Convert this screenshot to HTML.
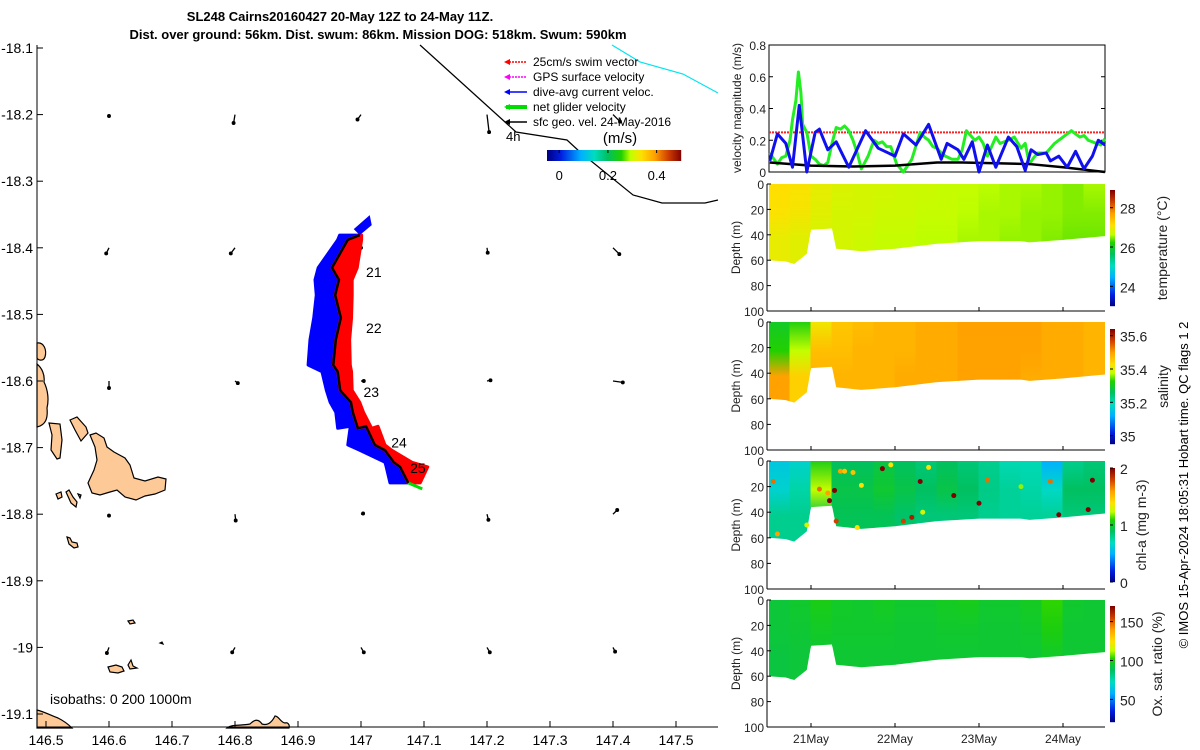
<!DOCTYPE html>
<html><head><meta charset="utf-8"><style>
html,body{margin:0;padding:0;background:#fff;width:1200px;height:750px;overflow:hidden}
svg{display:block;font-family:"Liberation Sans","DejaVu Sans",sans-serif}
</style></head><body>
<svg id="root" width="1200" height="750" viewBox="0 0 1200 750" xmlns="http://www.w3.org/2000/svg">
<g font-weight="bold" font-size="13" fill="#000">
<text x="340" y="21" text-anchor="middle">SL248 Cairns20160427 20-May 12Z to 24-May 11Z.</text>
<text x="378" y="39" text-anchor="middle">Dist. over ground: 56km. Dist. swum: 86km. Mission DOG: 518km. Swum: 590km</text>
</g>
<g id="map"></g>
<g id="right"></g>
<text transform="translate(1188,485) rotate(-90)" text-anchor="middle" font-size="13" fill="#000">© IMOS 15-Apr-2024 18:05:31 Hobart time. QC flags 1  2</text>
</svg>
<script>
// ---------------- data ----------------
const trackLon=[146.998,146.979,146.954,146.965,146.959,146.968,146.960,146.956,146.963,146.967,146.984,146.987,146.995,147.008,147.022,147.038,147.052,147.062,147.075];
const trackLat=[-18.381,-18.388,-18.430,-18.448,-18.471,-18.505,-18.538,-18.576,-18.586,-18.614,-18.632,-18.647,-18.671,-18.668,-18.696,-18.704,-18.722,-18.729,-18.753];
const diveAvgWidth=[0.032,0.016,0.022,0.038,0.030,0.043,0.041,0.040,0.025,0.022,0.033,0.027,0.032,0.025,0.043,0.040,0.014,0.022,0.029];
const swimWidth=[0.003,0.022,0.040,0.021,0.027,0.017,0.022,0.027,0.022,0.019,0.014,0.017,0.022,0.019,0.016,0.011,0.029,0.044,0.019];
const dayLabels=["21","22","23","24","25"];
const dayLabelLon=[147.008,147.008,147.004,147.048,147.078];
const dayLabelLat=[-18.444,-18.528,-18.624,-18.700,-18.738];
const gridLon=[146.6,146.8,147.0,147.2,147.4];
const gridLat=[-18.2,-18.4,-18.6,-18.8,-19.0];
const geoU=[[0,-0.2,-0.5,0.3,1.0],[-0.4,-0.6,0,0.1,0.9],[0,0.4,0.4,0.5,1.4],[0,0.1,0.3,0.2,0.6],[-0.3,-0.4,0.4,0.4,0.3]];
const geoV=[[-0.2,-1.2,-0.7,-2.5,-1.0],[-0.8,-0.8,0,-0.7,-0.9],[-1.0,-0.3,0,0.1,-0.2],[-0.2,-0.9,0.1,-0.8,0.6],[-0.8,-0.7,-0.7,-0.7,-0.6]];
const cbTicks=[0,0.2,0.4];
const mapXTicks=[146.5,146.6,146.7,146.8,146.9,147,147.1,147.2,147.3,147.4,147.5];
const mapYTicks=[-18.1,-18.2,-18.3,-18.4,-18.5,-18.6,-18.7,-18.8,-18.9,-19,-19.1];

const blueT=[20.51,20.6,20.7,20.78,20.86,20.95,21.05,21.1,21.2,21.3,21.45,21.65,21.8,22.0,22.1,22.25,22.4,22.55,22.62,22.75,22.82,22.92,23.0,23.1,23.2,23.35,23.45,23.55,23.62,23.7,23.8,23.85,23.95,24.05,24.15,24.25,24.35,24.42,24.5];
const blueV=[0.07,0.24,0.18,0.03,0.42,0.0,0.25,0.27,0.14,0.19,0.03,0.26,0.15,0.10,0.24,0.17,0.30,0.08,0.18,0.14,0.08,0.19,0.0,0.17,0.03,0.22,0.16,0.01,0.14,0.11,0.12,0.07,0.10,0.03,0.13,0.02,0.10,0.20,0.17];
const greenT=[20.51,20.56,20.6,20.65,20.7,20.75,20.78,20.82,20.85,20.88,20.9,20.95,21.0,21.05,21.1,21.15,21.2,21.25,21.3,21.35,21.4,21.45,21.5,21.55,21.6,21.68,21.75,21.8,21.85,21.9,21.95,22.02,22.1,22.2,22.3,22.35,22.4,22.45,22.5,22.55,22.6,22.68,22.75,22.8,22.85,22.9,22.95,23.0,23.05,23.1,23.15,23.2,23.25,23.35,23.42,23.5,23.55,23.6,23.65,23.7,23.8,23.9,24.0,24.05,24.1,24.15,24.2,24.25,24.3,24.4,24.45,24.5];
const greenV=[0.12,0.08,0.05,0.09,0.10,0.2,0.33,0.45,0.63,0.5,0.30,0.25,0.10,0.08,0.05,0.04,0.06,0.18,0.28,0.27,0.29,0.26,0.20,0.12,0.02,0.10,0.20,0.18,0.19,0.16,0.16,0.05,0.0,0.08,0.25,0.22,0.20,0.16,0.15,0.12,0.10,0.08,0.08,0.14,0.26,0.23,0.20,0.22,0.18,0.10,0.16,0.22,0.18,0.20,0.22,0.15,0.18,0.05,0.09,0.12,0.12,0.18,0.22,0.24,0.26,0.24,0.22,0.23,0.20,0.18,0.17,0.21];
const blackT=[20.51,21.0,21.5,22.0,22.5,22.8,23.2,23.6,24.0,24.5];
const blackV=[0.06,0.04,0.035,0.04,0.06,0.06,0.055,0.05,0.03,0.0];
const swimSpeed=0.25;
const velTicks=[0,0.2,0.4,0.6,0.8];
const dayTicks=[21,22,23,24];
const dayTickLabels=["21May","22May","23May","24May"];
const depthTicks=[0,20,40,60,80,100];

const bottomT=[20.5,20.7,20.8,20.95,21.0,21.25,21.3,21.6,22.0,22.5,23.0,23.5,23.6,24.0,24.5];
const bottomD=[60,61,63,55,36,35,51,53,51,47,45,45,46,44,41];
const colT=[20.5,20.75,21.0,21.25,21.5,21.75,22.0,22.25,22.5,22.75,23.0,23.25,23.5,23.75,24.0,24.25];
const tempTop=[27.15,27.1,26.95,26.85,26.8,26.8,26.75,26.75,26.7,26.7,26.65,26.6,26.6,26.55,26.5,26.6];
const tempMid=[27.1,27.05,26.9,26.8,26.8,26.75,26.75,26.7,26.7,26.65,26.6,26.6,26.55,26.55,26.5,26.5];
const tempBot=[26.95,26.9,26.8,26.8,26.75,26.7,26.7,26.65,26.65,26.6,26.6,26.55,26.55,26.5,26.45,26.45];
const salTop=[35.30,35.32,35.42,35.46,35.47,35.48,35.48,35.49,35.49,35.50,35.50,35.50,35.50,35.49,35.49,35.48];
const salMid=[35.33,35.38,35.47,35.47,35.48,35.48,35.48,35.49,35.49,35.50,35.50,35.50,35.50,35.49,35.49,35.48];
const salBot=[35.50,35.45,35.48,35.48,35.48,35.48,35.49,35.49,35.49,35.50,35.50,35.50,35.49,35.49,35.49,35.48];
const chlTop=[0.6,0.65,1.05,0.9,0.9,0.95,0.9,0.85,0.9,0.85,0.8,0.72,0.72,0.5,0.8,0.85];
const chlMid=[0.65,0.75,1.25,0.95,0.95,1.0,0.95,0.9,0.95,0.9,0.82,0.78,0.75,0.68,0.9,0.9];
const chlBot=[0.8,0.8,0.95,0.92,0.92,0.92,0.88,0.85,0.85,0.85,0.8,0.78,0.78,0.78,0.85,0.85];
const oxyTop=[94,96,100,97,96,98,96,96,98,99,96,96,98,104,96,95];
const oxyMid=[94,95,97,96,96,96,95,95,96,96,95,95,96,101,95,95];
const oxyBot=[93,94,95,95,95,95,95,95,95,95,95,95,95,97,95,95];
const chlDotT=[20.55,20.6,20.95,21.1,21.2,21.22,21.28,21.3,21.35,21.4,21.5,21.55,21.6,21.85,21.95,22.1,22.2,22.3,22.33,22.4,22.7,23.0,23.1,23.5,23.85,23.95,24.3,24.35];
const chlDotD=[16,57,50,22,25,31,23,47,8,8,9,52,19,6,3,47,44,16,40,5,27,33,15,20,16,42,38,15];
const chlDotV=[1.7,1.6,1.3,1.7,1.6,2.0,2.0,1.8,1.6,1.5,1.5,1.4,1.4,2.0,1.4,1.8,1.9,2.0,1.3,1.4,2.0,2.0,1.7,1.2,1.7,2.0,2.0,2.0];

// ---------------- helpers ----------------
const NS="http://www.w3.org/2000/svg";
function mk(parent,tag,attrs,text){const e=document.createElementNS(NS,tag);for(const k in attrs)e.setAttribute(k,attrs[k]);if(text!==undefined)e.textContent=text;parent.appendChild(e);return e;}
const cmStops=[[0,0,0,130],[0.1,0,30,225],[0.25,0,176,255],[0.35,0,220,190],[0.45,0,192,96],[0.55,32,208,0],[0.62,192,255,0],[0.7,255,224,0],[0.8,255,160,0],[0.9,208,64,0],[1,128,0,0]];
function jet(f){f=Math.max(0,Math.min(1,f));
 for(let i=1;i<cmStops.length;i++){if(f<=cmStops[i][0]){const a=cmStops[i-1],b=cmStops[i],t=(f-a[0])/(b[0]-a[0]);
  return `rgb(${Math.round(a[1]+t*(b[1]-a[1]))},${Math.round(a[2]+t*(b[2]-a[2]))},${Math.round(a[3]+t*(b[3]-a[3]))})`;}}
 return 'rgb(128,0,0)';}
const mx=lon=>46+(lon-146.5)*630;
const my=lat=>48+(-18.1-lat)*666;
const map=document.getElementById('map');
const right=document.getElementById('right');
const defs=mk(document.getElementById('root'),'defs',{});

// ---------------- map ----------------
const coast=mk(map,'g',{fill:'#fdc996',stroke:'#000','stroke-width':1.2});


const coastPaths=["M37,343 C44,342 47,350 45,357 C43,362 38,360 37,358Z",
"M37,364 C42,368 45,375 44,382 C48,390 49,400 47,408 C48,418 46,425 37,427Z",
"M49,423 L60,424 L62,440 L60,458 L57,459 L51,450 L52,435Z",
"M70,420 L77,417 L86,427 L88,433 L81,441 L75,430Z",
"M90,435 L96,433 L104,438 L107,447 L114,452 L125,458 L130,465 L134,478 L145,481 L158,477 L166,479 L165,490 L155,494 L145,496 L136,500 L125,497 L117,490 L110,492 L100,495 L92,493 L88,483 L94,470 L97,460 L95,447Z",
"M56,494 L61,492 L62,497 L58,499Z","M66,492 L69,490 L73,497 L77,502 L76,507 L71,503Z","M78,494 L81,495 L80,498Z",
"M67,537 L70,538 L72,542 L77,543 L78,547 L74,548 L69,544Z",
"M108,667 L116,665 L122,667 L124,671 L118,673 L110,672Z","M128,665 L131,660 L133,666 L137,668 L130,669Z","M128,621 L133,620 L135,623 L130,624Z","M160,643 L162,642 L163,644Z",
"M37,710 C45,712 52,716 58,718 C64,721 68,724 72,728 L37,728Z",
"M227,728 C232,724 240,726 250,724 C254,720 258,718 262,724 C268,726 272,722 275,716 C279,716 280,722 285,723 C288,722 290,725 289,728Z"];
coastPaths.forEach(d=>mk(coast,'path',{d:d}));

const ax=mk(map,'g',{stroke:'#000','stroke-width':1});


mk(ax,'line',{x1:37,y1:45,x2:37,y2:727});
mk(ax,'line',{x1:37,y1:727,x2:718,y2:727});
mapXTicks.forEach(v=>{const x=mx(v);mk(ax,'line',{x1:x,y1:727,x2:x,y2:721});
 const t=mk(map,'text',{x:x,y:745,'text-anchor':'middle','font-size':14},String(v));
 
 });
mapYTicks.forEach(v=>{const y=my(v);mk(ax,'line',{x1:37,y1:y,x2:43,y2:y});
 const t=mk(map,'text',{x:33,y:y+5,'text-anchor':'end','font-size':14},String(v));
 
 });
const iso=mk(map,'text',{x:50,y:704,'font-size':14},'isobaths: 0   200  1000m');



const mission=mk(map,'polyline',{points:"420,45 505,122 516,132 567,140 580,152 633,195 662,203 705,203 718,200",fill:'none',stroke:'#000','stroke-width':1.2});


const cyan=mk(map,'polyline',{points:"612,45 640,62 683,74 718,93",fill:'none',stroke:'#00e5f0','stroke-width':1.2});



const arr=mk(map,'g',{stroke:'#000','stroke-width':1.3,fill:'#000'});


gridLat.forEach((la,i)=>gridLon.forEach((lo,j)=>{
 const x=mx(lo),y=my(la),dx=geoU[i][j]*7,dy=-geoV[i][j]*7;
 mk(arr,'line',{x1:x,y1:y,x2:x+dx,y2:y+dy});
 mk(arr,'circle',{cx:x+dx,cy:y+dy,r:1.3});
}));

function band(widths,sign,color,name){
 const pts=[];trackLon.forEach((lo,i)=>pts.push(mx(lo+sign*widths[i])+','+my(trackLat[i])));
 for(let i=trackLon.length-1;i>=0;i--)pts.push(mx(trackLon[i])+','+my(trackLat[i]));
 const p=mk(map,'polygon',{points:pts.join(' '),fill:color,stroke:color,'stroke-width':3,'stroke-linejoin':'round'});
 
 
}
band(diveAvgWidth,-1,'#0000ff','dive-avg-current-vectors');
band(swimWidth,1,'#ff0000','swim-vectors');
const tip=mk(map,'polygon',{points:`${mx(trackLon[0])},${my(trackLat[0])} ${mx(trackLon[0])-6},${my(trackLat[0])-6} ${mx(trackLon[0])+10},${my(trackLat[0])-20} ${mx(trackLon[0])+12},${my(trackLat[0])-10}`,fill:'#0000ff'});


const gl=mk(map,'line',{x1:mx(trackLon[18]),y1:my(trackLat[18]),x2:mx(trackLon[18])+14,y2:my(trackLat[18])+6,stroke:'#00dd00','stroke-width':3});


const tr=mk(map,'polyline',{points:trackLon.map((lo,i)=>mx(lo)+','+my(trackLat[i])).join(' '),fill:'none',stroke:'#000','stroke-width':2.5});


dayLabels.forEach((d,i)=>{const t=mk(map,'text',{x:mx(dayLabelLon[i]),y:my(dayLabelLat[i]),'font-size':14},d);
 
 });

const lg=mk(map,'g',{'font-size':12});


const legItems=["25cm/s swim vector","GPS surface velocity","dive-avg current veloc.","net glider velocity","sfc geo. vel. 24-May-2016"];
const legColors=["#ff0000","#ff00ff","#0000ff","#00dd00","#000"];
const legWidth=[1.5,1.5,1.5,4,1.5];
legItems.forEach((s,i)=>{const y=62+i*15;
 const g=mk(lg,'g',{});
 
 
 mk(g,'line',{x1:506,y1:y,x2:527,y2:y,stroke:legColors[i],'stroke-width':legWidth[i],'stroke-dasharray':i<2?'2,1':'none'});
 mk(g,'polygon',{points:`504,${y} 510,${y-3} 510,${y+3}`,fill:legColors[i]});
 mk(g,'text',{x:533,y:y+4},s);});
const a4=mk(map,'text',{x:506,y:141,'font-size':13},'4h');


const cbx=v=>547+(v+0.05)*(134/0.55);
const cb=mk(map,'g',{});


for(let i=0;i<134;i++)mk(cb,'rect',{x:547+i,y:150,width:1.2,height:11,fill:jet(i/134)});
cbTicks.forEach(v=>{mk(cb,'line',{x1:cbx(v),y1:150,x2:cbx(v),y2:153,stroke:'#000'});
 mk(cb,'text',{x:cbx(v),y:180,'text-anchor':'middle','font-size':13},String(v));});
mk(cb,'text',{x:620,y:143,'text-anchor':'middle','font-size':15},'(m/s)');

// ---------------- velocity panel ----------------
const X0=769,X1=1105;
const vx=d=>X0+(d-20.5)*84;
const vy=v=>172-v*158.75;
const vp=mk(right,'g',{});


mk(vp,'rect',{x:X0,y:45,width:X1-X0,height:127,fill:'none',stroke:'#000'});
velTicks.forEach(v=>{mk(vp,'line',{x1:X0,y1:vy(v),x2:X0+4,y2:vy(v),stroke:'#000'});
 mk(vp,'line',{x1:X1,y1:vy(v),x2:X1-4,y2:vy(v),stroke:'#000'});
 const t=mk(vp,'text',{x:X0-3,y:vy(v)+5,'text-anchor':'end','font-size':12,fill:'#222'},String(v));
 
 });
const vt=mk(vp,'text',{transform:`translate(741,108) rotate(-90)`,'text-anchor':'middle','font-size':12,fill:'#222'},'velocity magnitude (m/s)');


const sw=mk(vp,'line',{x1:X0,y1:vy(swimSpeed),x2:X1,y2:vy(swimSpeed),stroke:'#ff2020','stroke-width':2,'stroke-dasharray':'2,1'});


function series(T,V,color,w,name){const p=mk(vp,'polyline',{points:T.map((t,i)=>vx(t)+','+vy(V[i])).join(' '),fill:'none',stroke:color,'stroke-width':w,'stroke-linejoin':'round'});
 
 }
series(greenT,greenV,'#22ee22',3,'net-glider-velocity-line');
series(blackT,blackV,'#000',2.5,'geostrophic-velocity-line');
series(blueT,blueV,'#1010ee',3,'dive-avg-current-line');

// ---------------- depth panels ----------------
function depthPanel(name,top,bot,topA,midA,botA,vmin,vmax,cbTop,cbBot,ticks,title,titleX,showDates){
 const g=mk(right,'g',{});
 
 
 const dy=d=>top+(bot-top)*d/100;
 const cid='clip-'+name;
 const cp=mk(defs,'clipPath',{id:cid});
 const pts=[vx(20.5)+','+dy(0)];
 bottomT.forEach((t,i)=>pts.push(vx(t)+','+dy(bottomD[i])));
 pts.push(vx(24.5)+','+dy(0));
 mk(cp,'polygon',{points:pts.join(' ')});
 const hg=mk(g,'g',{'clip-path':`url(#${cid})`});
 colT.forEach((t,i)=>{
  const gid='gr-'+name+i;
  const lgd=mk(defs,'linearGradient',{id:gid,x1:0,y1:0,x2:0,y2:1});
  const f=v=>(v-vmin)/(vmax-vmin);
  mk(lgd,'stop',{offset:'0','stop-color':jet(f(topA[i]))});
  mk(lgd,'stop',{offset:'0.35','stop-color':jet(f(midA[i]))});
  mk(lgd,'stop',{offset:'0.65','stop-color':jet(f(botA[i]))});
  const r=mk(hg,'rect',{x:vx(t)-0.5,y:dy(-1),width:84*0.25+1,height:dy(66)-dy(-1),fill:`url(#${gid})`});
  
  
 });
 mk(g,'line',{x1:X0-2,y1:top,x2:X0-2,y2:bot,stroke:'#000'});
 mk(g,'line',{x1:X0-2,y1:bot,x2:X1,y2:bot,stroke:'#000'});
 depthTicks.forEach(d=>{mk(g,'line',{x1:X0-2,y1:dy(d),x2:X0+2,y2:dy(d),stroke:'#000'});
  const t=mk(g,'text',{x:X0-5,y:dy(d)+5,'text-anchor':'end','font-size':12,fill:'#222'},String(d));
  
  });
 const yt=mk(g,'text',{transform:`translate(740,${(top+bot)/2}) rotate(-90)`,'text-anchor':'middle','font-size':12,fill:'#222'},'Depth (m)');
 
 
 dayTicks.forEach((d,i)=>{mk(g,'line',{x1:vx(d),y1:bot,x2:vx(d),y2:bot-4,stroke:'#000'});
  if(showDates){const t=mk(g,'text',{x:vx(d),y:bot+16,'text-anchor':'middle','font-size':12,fill:'#222'},dayTickLabels[i]);
  
  }});
 const cb=mk(g,'g',{});
 
 
 const n=Math.round(cbBot-cbTop);
 for(let i=0;i<n;i++)mk(cb,'rect',{x:1110,y:cbTop+i,width:5,height:1.2,fill:jet(1-i/n)});
 const cy=v=>cbBot-(v-vmin)/(vmax-vmin)*(cbBot-cbTop);
 ticks.forEach(v=>{mk(cb,'line',{x1:1110,y1:cy(v),x2:1113,y2:cy(v),stroke:'#000'});
  mk(cb,'text',{x:1120,y:cy(v)+6,'font-size':14,fill:'#222'},String(v));});
 mk(cb,'text',{transform:`translate(${titleX},${(cbTop+cbBot)/2}) rotate(-90)`,'text-anchor':'middle','font-size':14,fill:'#222'},title);
 return {g,dy};
}
depthPanel('temperature-panel',184,311,tempTop,tempMid,tempBot,23.0,28.9,190,306,[24,26,28],'temperature (°C)',1167,false);
depthPanel('salinity-panel',322,450,salTop,salMid,salBot,34.95,35.64,329,444,[35,35.2,35.4,35.6],'salinity',1168,false);
const chl=depthPanel('chlorophyll-panel',461,589,chlTop,chlMid,chlBot,0,2,468,582,[0,1,2],'chl-a (mg m-3)',1146,false);
chlDotT.forEach((t,i)=>{const c=mk(chl.g,'circle',{cx:vx(t),cy:chl.dy(chlDotD[i]),r:2.5,fill:jet(chlDotV[i]/2)});
 
 });
depthPanel('oxygen-panel',600,727,oxyTop,oxyMid,oxyBot,21,170,606,722,[50,100,150],'Ox. sat. ratio (%)',1162,true);
</script>
</body></html>
